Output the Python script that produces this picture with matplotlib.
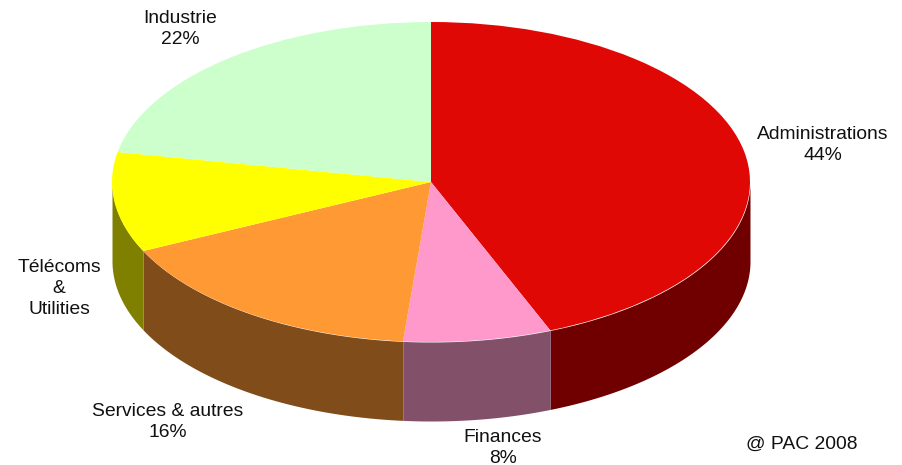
import matplotlib
matplotlib.use("Agg")
import matplotlib.pyplot as plt
import numpy as np

plt.rcParams['font.family'] = ['Liberation Sans', 'DejaVu Sans']

# shares, the printed labels are rounded
values = [43.9, 7.5, 16.5, 10.1, 22]
top_colors = ['#E00804', '#FF99CC', '#FF9933', '#FFFF00', '#CCFFCC']
side_colors = ['#700000', '#825068', '#804D1A', '#808000', '#668066']
labels = ['Administrations\n44%', 'Finances\n8%', 'Services & autres\n16%',
          'Télécoms\n&\nUtilities', 'Industrie\n22%']
label_pos = [(823, 145), (503, 448), (168, 422), (59, 288.5), (180, 29)]
credit = '@ PAC 2008'

W, H = 903, 465
CX, CY = 431, 182
RX, RY = 319, 160
DEPTH = 79 / RY

fig = plt.figure(figsize=(W / 100, H / 100), dpi=100)
ax = fig.add_axes([0, 0, 1, 1])

# side walls, only the front half of the rim shows
ends = np.cumsum(values) / np.sum(values) * 2 * np.pi
starts = np.r_[0, ends[:-1]]
for a0, a1, col in zip(starts, ends, side_colors):
    a0 = max(a0, np.pi / 2)
    a1 = min(a1, 3 * np.pi / 2)
    if a1 <= a0:
        continue
    t = np.linspace(a0, a1, 200)
    x = np.sin(t)
    y = np.cos(t)
    ax.fill_between(x, y - DEPTH, y, color=col, lw=0)

ax.pie(values, colors=top_colors, startangle=90, counterclock=False,
       wedgeprops={'linewidth': 0})

ax.set_aspect('auto')
ax.set_xlim(-CX / RX, (W - CX) / RX)
ax.set_ylim((CY - H) / RY, CY / RY)
ax.axis('off')

for txt, (px, py) in zip(labels, label_pos):
    fig.text(px / W, 1 - py / H, txt, ha='center', va='center',
             fontsize=13.85, linespacing=1.27, color='#111111')
fig.text(802 / W, 1 - 444 / H, credit, ha='center', va='center', fontsize=13.85, color='#111111')

fig.savefig('out.png', dpi=100)
